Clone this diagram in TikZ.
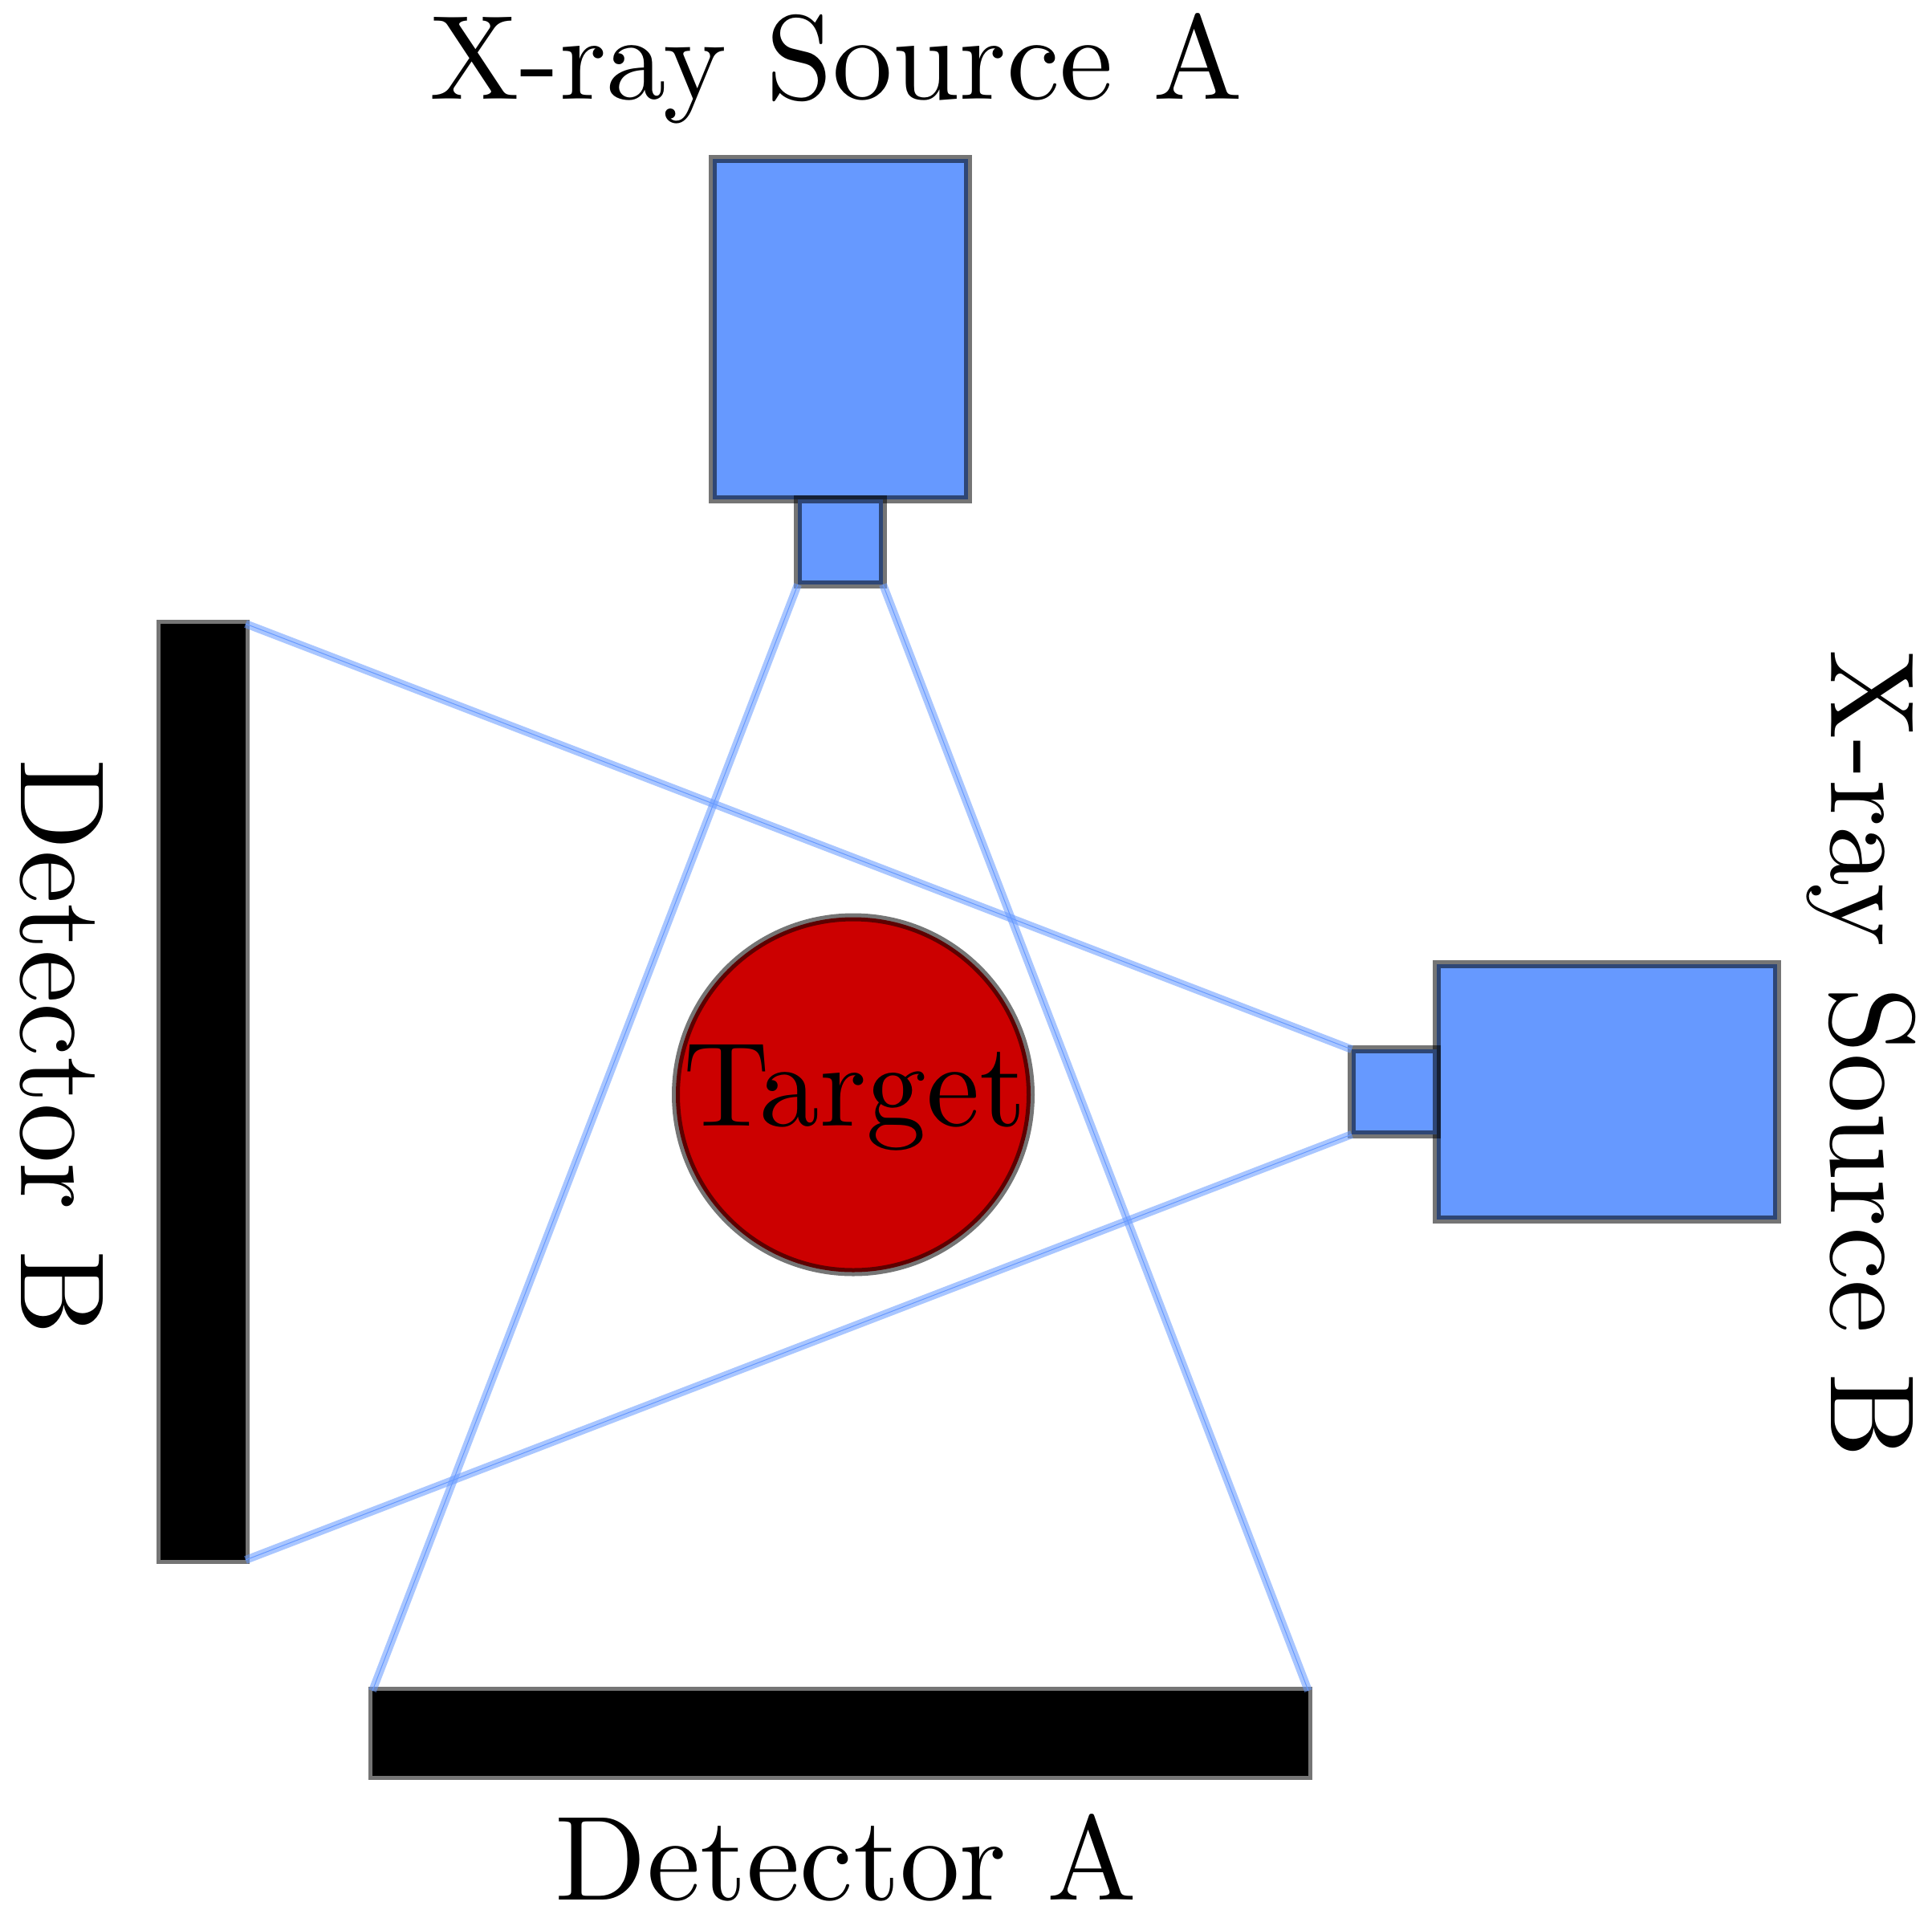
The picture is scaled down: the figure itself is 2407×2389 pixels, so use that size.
\documentclass[tikz,border=0pt]{standalone}
\definecolor{srcblue}{HTML}{6699FF}
\definecolor{tgtred}{HTML}{CC0000}
\tikzset{
  x=0.3pt,y=-0.3pt,
  part/.style={draw=black,draw opacity=0.54,line width=3pt,line join=miter},
  source/.style={part,fill=srcblue},
  detector/.style={part,fill=black},
  target/.style={part,fill=tgtred},
  lbl/.style={scale=4.48,anchor=base,inner sep=0pt,outer sep=0pt,text=black},
  rayglow/.style={draw=srcblue,draw opacity=0.56,line width=3pt},
  raycore/.style={draw=srcblue,line width=0.3pt}
}
\begin{document}
\begin{tikzpicture}
\useasboundingbox (0,0) rectangle (2407,2389);
% corners of the collimators and detectors
\coordinate (aL) at (994,728);
\coordinate (aR) at (1100,728);
\coordinate (bT) at (1684,1307);
\coordinate (bB) at (1684,1413);
\coordinate (dAL) at (464,2106);
\coordinate (dAR) at (1630,2106);
\coordinate (dBT) at (306,777);
\coordinate (dBB) at (306,1943);
% sources
\draw[source] (888,198) rectangle (1206,622);
\draw[source] (994,622) rectangle (aR);
\draw[source] (1790,1201) rectangle (2214,1519);
\draw[source] (bT) rectangle (1790,1413);
% detectors
\draw[detector] (dAL) rectangle (1630,2212);
\draw[detector] (200,777) rectangle (dBB);
% target
\draw[target] (1063,1363.5) circle[radius=221];
% beams
\foreach \p/\q in {aL/dAL,aR/dAR,bT/dBT,bB/dBB}{
  \draw[rayglow] (\p) -- (\q);
  \draw[raycore] (\p) -- (\q);
}
% labels
\node[lbl] (ltarget) at (1065,1402) {Target};
\node[lbl] (lsa) at (1042,123) {X-ray Source A};
\node[lbl] (lda) at (1054,2366) {Detector A};
\node[lbl,rotate=-90] (lsb) at (2281,1313) {X-ray Source B};
\node[lbl,rotate=-90] (ldb) at (26,1304) {Detector B};
\end{tikzpicture}
\end{document}
